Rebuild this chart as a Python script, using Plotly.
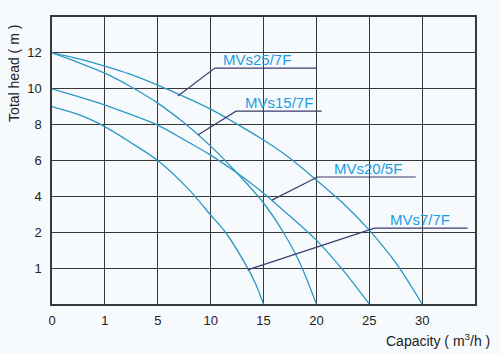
import numpy as np
import plotly.graph_objects as go

# Axis scale of the original chart (non-uniform tick steps, equal spacing)
x_tick_labels = [0, 1, 5, 10, 15, 20, 25, 30, 35]
y_tick_labels = [0, 1, 2, 4, 6, 8, 10, 12, 14]

# Pump curves: capacity (m3/h) vs total head (m)
mvs25_q = [0, 0.53, 1.0, 2.9, 5.0, 7.6, 10.0, 12.5, 15.0, 17.5, 20.0, 22.5, 25.0, 27.6, 30.0]
mvs25_h = [12, 11.65, 11.26, 10.81, 10.2, 9.53, 8.86, 8.03, 7.14, 6.13, 4.91, 3.63, 2.12, 1.11, 0]

mvs15_q = [0, 0.53, 1.0, 2.9, 5.0, 7.4, 10.0, 12.5, 15.0, 16.8, 18.4, 20.0]
mvs15_h = [12, 11.43, 10.87, 10.14, 9.20, 8.14, 6.80, 5.30, 3.63, 2.07, 1.17, 0]

mvs20_q = [0, 0.53, 1.0, 2.9, 5.0, 7.4, 10.0, 12.5, 15.0, 17.5, 20.0, 22.5, 25.0]
mvs20_h = [10, 9.53, 9.09, 8.58, 7.97, 7.19, 6.30, 5.30, 4.18, 2.90, 1.78, 0.95, 0]

mvs7_q = [0, 0.53, 0.93, 2.9, 5.0, 8.0, 10.0, 11.4, 13.5, 14.3, 15.0]
mvs7_h = [9.0, 8.53, 8.0, 7.03, 6.0, 4.35, 2.96, 2.0, 1.0, 0.53, 0]

names = ["MVs25/7F", "MVs15/7F", "MVs20/5F", "MVs7/7F"]

# Leader lines (label units) and text anchor x
lead_q = {
    "MVs25/7F": [6.9, 10.4, 20.0],
    "MVs15/7F": [8.8, 12.4, 20.5],
    "MVs20/5F": [15.8, 20.1, 29.4],
    "MVs7/7F": [13.5, 25.5, 34.3],
}
lead_h = {
    "MVs25/7F": [9.59, 11.15, 11.15],
    "MVs15/7F": [7.42, 8.75, 8.75],
    "MVs20/5F": [3.79, 5.08, 5.08],
    "MVs7/7F": [0.95, 2.23, 2.23],
}
text_q = {"MVs25/7F": 11.0, "MVs15/7F": 13.1, "MVs20/5F": 21.5, "MVs7/7F": 26.8}

pos = np.arange(len(x_tick_labels))


def fx(v):
    return np.interp(v, x_tick_labels, pos)


def fy(v):
    return np.interp(v, y_tick_labels, pos)


CURVE = "#2a97c6"
LEAD = "#3f3a6e"
TEXT = "#1c9ddf"
GRID = "#383838"
FONT = "Liberation Sans, Arial, sans-serif"

fig = go.Figure()

curves = [(mvs25_q, mvs25_h), (mvs15_q, mvs15_h), (mvs20_q, mvs20_h), (mvs7_q, mvs7_h)]
for name, (q, h) in zip(names, curves):
    fig.add_trace(go.Scatter(x=fx(q), y=fy(h), mode="lines", name=name,
                             line=dict(color=CURVE, width=1.3, shape="spline", smoothing=0.8),
                             showlegend=False, hoverinfo="skip"))

for name in names:
    fig.add_trace(go.Scatter(x=fx(lead_q[name]), y=fy(lead_h[name]), mode="lines",
                             line=dict(color=LEAD, width=1.2), showlegend=False, hoverinfo="skip"))
    fig.add_annotation(x=float(fx(text_q[name])), y=float(fy(lead_h[name][-1])),
                       xref="x", yref="y", text=name, showarrow=False,
                       xanchor="left", yanchor="middle", yshift=9,
                       font=dict(family=FONT, size=15, color=TEXT))

fig.add_annotation(x=-0.09, y=0.805, xref="paper", yref="paper", text="Total head ( m )",
                   textangle=-90, showarrow=False, xanchor="center", yanchor="middle",
                   font=dict(family=FONT, size=14, color="#222"))
fig.add_annotation(x=0.9125, y=-0.125, xref="paper", yref="paper",
                   text="Capacity ( m<sup>3</sup>/h )", showarrow=False,
                   xanchor="center", yanchor="middle",
                   font=dict(family=FONT, size=14, color="#222"))

fig.update_xaxes(range=[0, 8], tickvals=list(pos[:8]), ticktext=[str(v) for v in x_tick_labels[:8]],
                 showgrid=True, gridcolor=GRID, gridwidth=1.3, zeroline=False,
                 showline=True, linecolor=GRID, linewidth=1.5, mirror=True,
                 ticks="", ticklabelstandoff=4,
                 tickfont=dict(family=FONT, size=13, color="#222"))
fig.update_yaxes(range=[0, 8], tickvals=list(pos[1:8]), ticktext=[str(v) for v in y_tick_labels[1:8]],
                 showgrid=True, gridcolor=GRID, gridwidth=1.3, zeroline=False,
                 showline=True, linecolor=GRID, linewidth=1.5, mirror=True,
                 ticks="", ticklabelstandoff=6,
                 tickfont=dict(family=FONT, size=13, color="#222"))

fig.update_layout(width=500, height=354, margin=dict(l=52, r=25, t=17, b=50),
                  paper_bgcolor="#f7fafd", plot_bgcolor="#f7fafd")

fig.write_html("out.html")
